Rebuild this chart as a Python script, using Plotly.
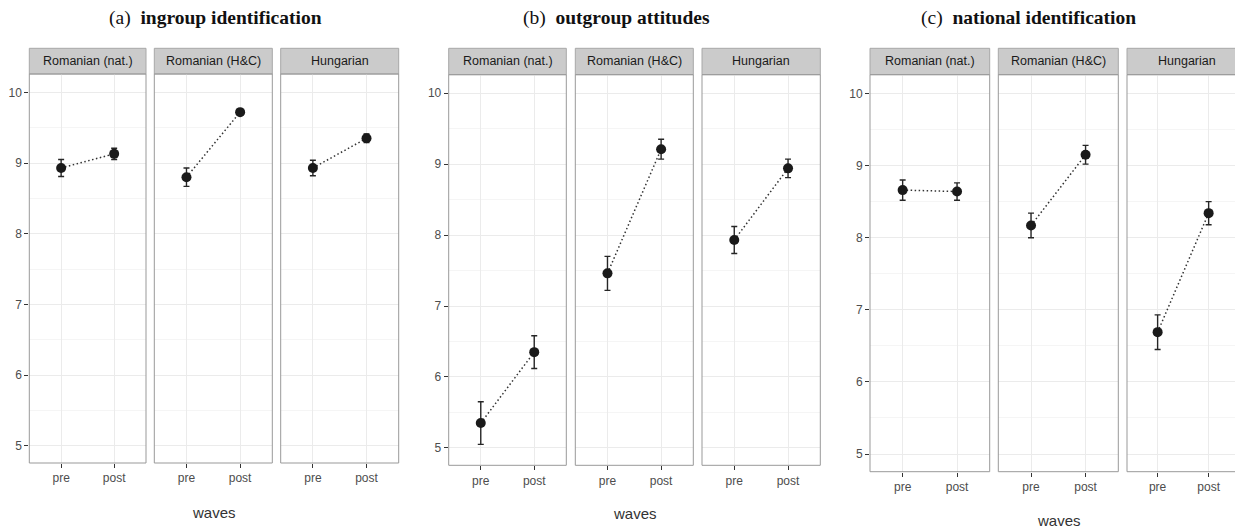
import plotly.graph_objects as go

# ---------------- data ----------------
waves = ["pre", "post"]
groups = ["Romanian (nat.)", "Romanian (H&C)", "Hungarian"]
panel_tags = ["(a)", "(b)", "(c)"]
panel_names = ["ingroup identification", "outgroup attitudes", "national identification"]

ingroup_means = [[8.93, 9.13], [8.80, 9.72], [8.93, 9.35]]
ingroup_err = [[0.12, 0.08], [0.13, 0.04], [0.11, 0.06]]
outgroup_means = [[5.35, 6.35], [7.46, 9.21], [7.93, 8.94]]
outgroup_err = [[0.30, 0.23], [0.24, 0.14], [0.19, 0.13]]
national_means = [[8.66, 8.64], [8.17, 9.15], [6.69, 8.34]]
national_err = [[0.14, 0.12], [0.17, 0.13], [0.24, 0.16]]

y_ticks = [5, 6, 7, 8, 9, 10]

all_means = [ingroup_means, outgroup_means, national_means]
all_errs = [ingroup_err, outgroup_err, national_err]

# ---------------- layout geometry (target-window pixels) ----------------
OFF = 8                       # page body margin
W, H = 1243 - OFF, 529 - OFF  # figure size so it fills the window
facet_x = [
    [(29.3, 146.0), (154.3, 272.3), (280.7, 398.7)],
    [(448.7, 566.3), (575.3, 693.3), (702.0, 820.3)],
    [(870.0, 989.7), (998.3, 1118.3), (1127.0, 1247.0)],
]
panel_y = [(74.0, 463.0), (74.7, 465.3), (74.7, 471.7)]
strip_top = 48.3
title_x = [215, 616, 1028]
xlabel_y = [512, 513, 520]

YR = [4.755, 10.26]

fig = go.Figure()
shapes = []
annotations = []
layout_axes = {}

def px2fx(x):
    return (x - OFF) / W

def px2fy(y):
    return 1 - (y - OFF) / H

for p in range(3):
    yt, yb = panel_y[p]
    for f in range(3):
        k = p * 3 + f + 1
        x0, x1 = facet_x[p][f]
        x1c = min(x1, W + OFF)
        xr_end = 1.6 + (x1 - x1c) / (x1 - x0) * 2.2
        xa = "x" if k == 1 else f"x{k}"
        ya = "y" if k == 1 else f"y{k}"
        fig.add_trace(go.Scatter(
            x=waves, y=all_means[p][f],
            mode="lines+markers",
            line=dict(color="#333333", width=1.5, dash="1.5px,2.5px"),
            marker=dict(size=10, color="#1a1a1a"),
            error_y=dict(type="data", array=all_errs[p][f], visible=True,
                         color="#262626", thickness=1.4, width=3),
            xaxis=xa, yaxis=ya, showlegend=False, hoverinfo="x+y",
        ))
        layout_axes[f"xaxis{'' if k == 1 else k}"] = dict(
            domain=[px2fx(x0), px2fx(x1c)], anchor=ya,
            type="category", categoryorder="array", categoryarray=waves,
            range=[-0.6, xr_end], showgrid=True, gridcolor="#ebebeb", gridwidth=1,
            zeroline=False, showline=False,
            ticks="outside", ticklen=4, tickcolor="#333333", tickwidth=1,
            tickfont=dict(family="Liberation Sans, Arial", size=12, color="#4d4d4d"),
            fixedrange=True,
        )
        layout_axes[f"yaxis{'' if k == 1 else k}"] = dict(
            domain=[px2fy(yb), px2fy(yt)], anchor=xa,
            range=YR, tickvals=y_ticks, showgrid=True, gridcolor="#ebebeb", gridwidth=1,
            minor=dict(dtick=0.5, tick0=4.5, showgrid=True, gridcolor="#f5f5f5", gridwidth=1),
            zeroline=False, showline=False,
            ticks="outside" if f == 0 else "", ticklen=4, tickcolor="#333333", tickwidth=1,
            showticklabels=(f == 0),
            tickfont=dict(family="Liberation Sans, Arial", size=12, color="#4d4d4d"),
            fixedrange=True,
        )
        shapes.append(dict(type="rect", xref="paper", yref="paper",
                           x0=px2fx(x0), x1=px2fx(x1), y0=px2fy(yb), y1=px2fy(yt),
                           line=dict(color="#999999", width=1), fillcolor="rgba(0,0,0,0)",
                           layer="above"))
        shapes.append(dict(type="rect", xref="paper", yref="paper",
                           x0=px2fx(x0), x1=px2fx(x1), y0=px2fy(yt), y1=px2fy(strip_top),
                           line=dict(color="#a8a8a8", width=1), fillcolor="#cbcbcb",
                           layer="below"))
        annotations.append(dict(
            text=groups[f], xref="paper", yref="paper",
            x=px2fx((x0 + x1) / 2), y=px2fy((yt + strip_top) / 2),
            xanchor="center", yanchor="middle", showarrow=False,
            font=dict(family="Liberation Sans, Arial", size=12.5, color="#1a1a1a"),
        ))
    annotations.append(dict(
        text=f"{panel_tags[p]}&nbsp;&nbsp;<b>{panel_names[p]}</b>",
        xref="paper", yref="paper", x=px2fx(title_x[p]), y=px2fy(18),
        xanchor="center", yanchor="middle", showarrow=False,
        font=dict(family="Liberation Serif, Times New Roman", size=19.5, color="#111111"),
    ))
    xc = (facet_x[p][0][0] + facet_x[p][2][1]) / 2
    annotations.append(dict(
        text="waves", xref="paper", yref="paper", x=px2fx(xc), y=px2fy(xlabel_y[p]),
        xanchor="center", yanchor="middle", showarrow=False,
        font=dict(family="Liberation Sans, Arial", size=15, color="#333333"),
    ))

fig.update_layout(
    width=W, height=H, autosize=False,
    margin=dict(l=0, r=0, t=0, b=0),
    paper_bgcolor="white", plot_bgcolor="white",
    shapes=shapes, annotations=annotations,
    **layout_axes,
)

fig.write_html("out.html")
